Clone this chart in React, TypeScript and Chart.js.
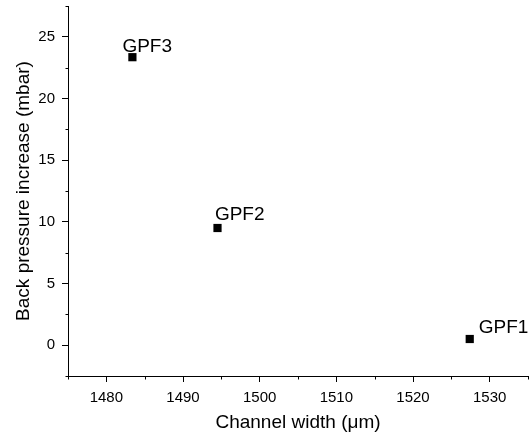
import React, { useEffect, useRef } from "react";
import { Chart, registerables } from "chart.js";

Chart.register(...registerables);

const pointNames = ["GPF1", "GPF2", "GPF3"];
const channelWidth = [1527.4, 1494.5, 1483.4];
const backPressure = [0.5, 9.5, 23.35];

const xTicks = [1480, 1490, 1500, 1510, 1520, 1530];
const yTicks = [0, 5, 10, 15, 20, 25];
const xMinorTicks = [1475, 1485, 1495, 1505, 1515, 1525, 1535];
const yMinorTicks = [-2.5, 2.5, 7.5, 12.5, 17.5, 22.5, 27.5];

const xRange = [1475, 1535];
const yRange = [-2.5, 27.5];

const xTitle = "Channel width (\u03bcm)";
const yTitle = "Back pressure increase (mbar)";

// label placement (pixel offsets from marker centre)
const labelOffsets = [
  [9, -6],
  [-2.6, -8],
  [-10, -5.6],
];

const FONT = "'Liberation Sans', Arial, Helvetica, sans-serif";

const minorTickPlugin = {
  id: "minorTicks",
  afterDraw(chart: any) {
    const ctx = chart.ctx;
    const xs = chart.scales.x;
    const ys = chart.scales.y;
    ctx.save();
    ctx.strokeStyle = "#000";
    ctx.lineWidth = 1;
    ctx.beginPath();
    const bottom = Math.round(ys.getPixelForValue(yRange[0])) + 0.5;
    const left = Math.round(xs.getPixelForValue(xRange[0])) + 0.5;
    xMinorTicks.forEach((v) => {
      const px = Math.round(xs.getPixelForValue(v)) + 0.5;
      ctx.moveTo(px, bottom);
      ctx.lineTo(px, bottom + 3);
    });
    yMinorTicks.forEach((v) => {
      const py = Math.round(ys.getPixelForValue(v)) + 0.5;
      ctx.moveTo(left, py);
      ctx.lineTo(left - 3, py);
    });
    ctx.stroke();
    ctx.restore();
  },
};

const pointLabelPlugin = {
  id: "pointLabels",
  afterDatasetsDraw(chart: any) {
    const ctx = chart.ctx;
    const meta = chart.getDatasetMeta(0);
    ctx.save();
    ctx.fillStyle = "#000";
    ctx.font = `19px ${FONT}`;
    ctx.textAlign = "left";
    ctx.textBaseline = "alphabetic";
    meta.data.forEach((el: any, i: number) => {
      const [dx, dy] = labelOffsets[i];
      ctx.fillText(pointNames[i], el.x + dx, el.y + dy);
    });
    ctx.restore();
  },
};

export default function App() {
  const canvasRef = useRef<HTMLCanvasElement | null>(null);

  useEffect(() => {
    const canvas = canvasRef.current;
    if (!canvas) return;
    const chart = new Chart(canvas, {
      type: "scatter",
      data: {
        datasets: [
          {
            label: "Back pressure",
            data: channelWidth.map((x, i) => ({ x, y: backPressure[i] })),
            pointStyle: "rect",
            pointRadius: 5.8,
            pointHoverRadius: 5.8,
            pointBorderWidth: 0,
            backgroundColor: "#000",
            borderColor: "#000",
          },
        ],
      },
      options: {
        animation: false,
        responsive: false,
        maintainAspectRatio: false,
        layout: { autoPadding: false, padding: { top: 6, right: 1, left: 0, bottom: 0 } },
        plugins: {
          legend: { display: false },
          tooltip: { enabled: false },
        },
        scales: {
          x: {
            type: "linear",
            position: "bottom",
            min: xRange[0],
            max: xRange[1],
            afterBuildTicks: (scale: any) => {
              scale.ticks = xTicks.map((v) => ({ value: v }));
            },
            afterFit: (scale: any) => {
              scale.height = 63;
              scale.paddingLeft = 0;
              scale.paddingRight = 0;
            },
            ticks: {
              color: "#000",
              font: { family: FONT, size: 15 },
              padding: 7,
              maxRotation: 0,
              callback: (v: any) => String(v),
            },
            grid: {
              drawOnChartArea: false,
              drawTicks: true,
              tickLength: 6,
              tickColor: "#000",
              tickWidth: 1,
            },
            border: { display: true, color: "#000", width: 1 },
            title: {
              display: true,
              text: xTitle,
              color: "#000",
              font: { family: FONT, size: 19 },
              padding: { top: 0, bottom: 4.6 },
            },
          },
          y: {
            type: "linear",
            position: "left",
            min: yRange[0],
            max: yRange[1],
            afterBuildTicks: (scale: any) => {
              scale.ticks = yTicks.map((v) => ({ value: v }));
            },
            afterFit: (scale: any) => {
              scale.width = 68;
              scale.paddingTop = 0;
              scale.paddingBottom = 0;
            },
            ticks: {
              color: "#000",
              font: { family: FONT, size: 15 },
              padding: 7,
              callback: (v: any) => String(v),
            },
            grid: {
              drawOnChartArea: false,
              drawTicks: true,
              tickLength: 6,
              tickColor: "#000",
              tickWidth: 1,
            },
            border: { display: true, color: "#000", width: 1 },
            title: {
              display: true,
              text: yTitle,
              color: "#000",
              font: { family: FONT, size: 19 },
              padding: { top: 12.6, bottom: 0 },
            },
          },
        },
      },
      plugins: [minorTickPlugin, pointLabelPlugin],
    });
    return () => chart.destroy();
  }, []);

  return (
    <div style={{ position: "fixed", left: 0, top: 0, width: 529, height: 439, background: "#fff" }}>
      <canvas ref={canvasRef} width={529} height={439} style={{ display: "block", width: 529, height: 439 }} />
    </div>
  );
}
